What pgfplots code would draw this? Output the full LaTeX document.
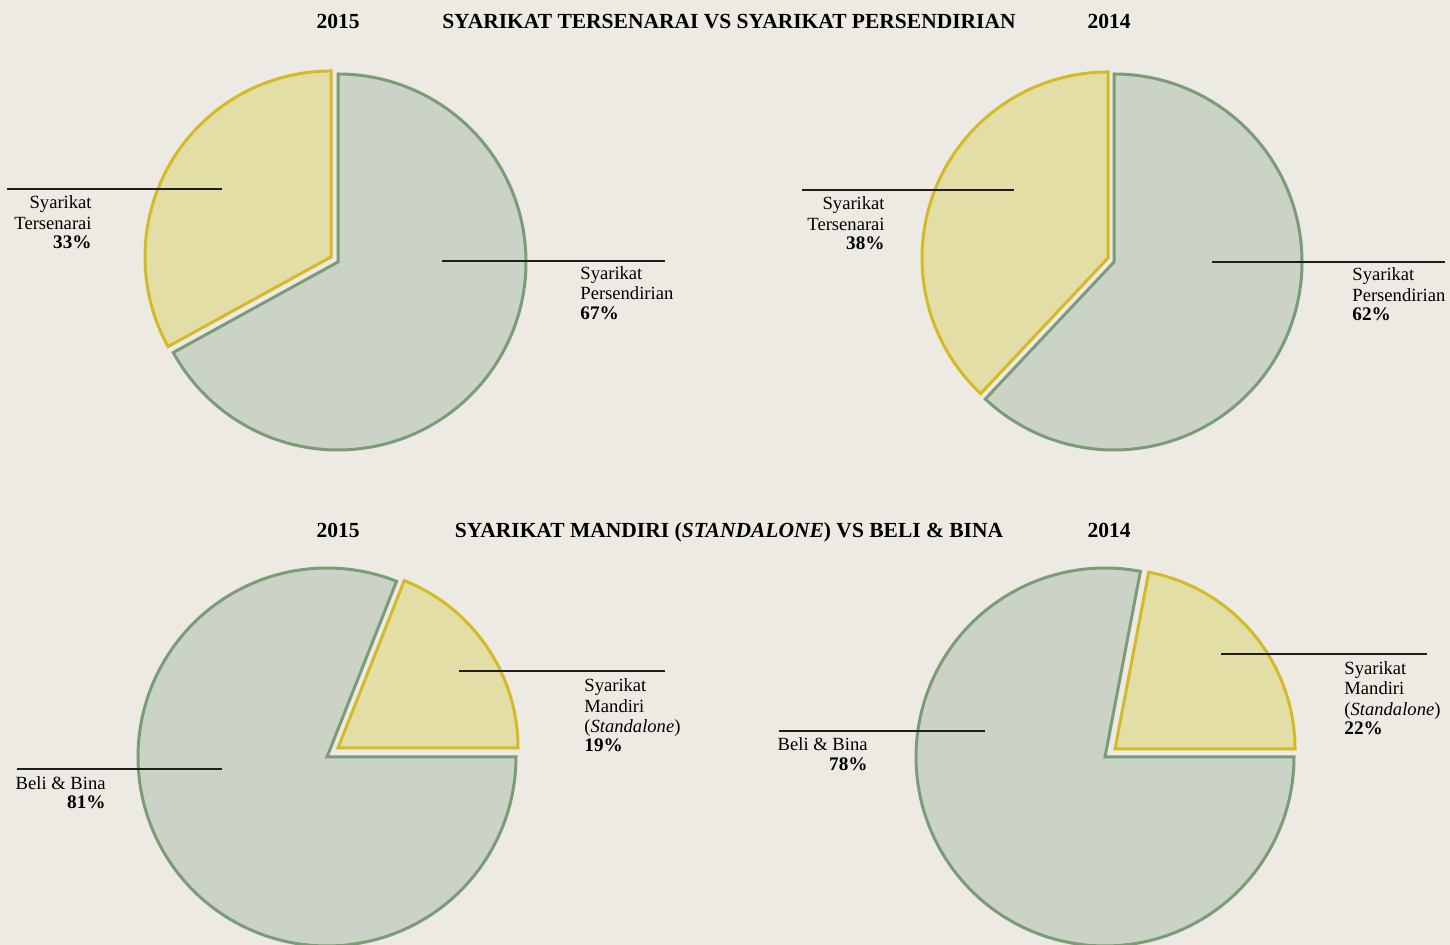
\documentclass[border=0pt]{standalone}
\usepackage{fontspec}
\setmainfont{Liberation Serif}
\usepackage{pgfplots}
\pgfplotsset{compat=1.18}
\definecolor{bg}{HTML}{EDEAE3}
\definecolor{gfill}{HTML}{CAD3C5}
\definecolor{gline}{HTML}{7A9C76}
\definecolor{yfill}{HTML}{E3DDA6}
\definecolor{yline}{HTML}{D5BA28}
\definecolor{lead}{HTML}{1E1E1E}
% slice: cx, cy, r, start angle, end angle, style
\newcommand{\slice}[6]{%
  \addplot[#6, domain=#4:#5, samples=150] ({#1+#3*cos(x)},{#2+#3*sin(x)}) -- (axis cs:#1,#2) -- cycle;
}
\tikzset{
  gsl/.style={fill=gfill, draw=gline, line width=1.5pt, line join=miter},
  ysl/.style={fill=yfill, draw=yline, line width=1.5pt, line join=miter},
  lab/.style={inner sep=0pt, font=\fontsize{9.3}{10}\selectfont, text=black},
  pct/.style={inner sep=0pt, font=\fontsize{9.6}{10}\selectfont\bfseries, text=black},
  ttl/.style={inner sep=0pt, anchor=base, font=\fontsize{10.75}{12}\selectfont\bfseries, text=black},
  ld/.style={draw=lead, line width=0.65pt}
}
\begin{document}
\begin{tikzpicture}
\begin{axis}[scale only axis, width=725pt, height=472.5pt,
  xmin=0, xmax=1450, ymin=0, ymax=945, hide axis, clip=true]
\fill[bg] (axis cs:0,0) rectangle (axis cs:1450,945);
% ---- top left: 2015, Tersenarai 33 / Persendirian 67
\slice{338}{683}{188}{-151.2}{90}{gsl}
\slice{331}{688}{186}{90}{208.8}{ysl}
% ---- top right: 2014, Tersenarai 38 / Persendirian 62
\slice{1114}{683}{188}{-133.2}{90}{gsl}
\slice{1108}{687}{186}{90}{226.8}{ysl}
% ---- bottom left: 2015, Mandiri 19 / Beli & Bina 81
\slice{327}{188}{189}{68.4}{360}{gsl}
\slice{338}{197}{180}{0}{68.4}{ysl}
% ---- bottom right: 2014, Mandiri 22 / Beli & Bina 78
\slice{1105}{188}{189}{79.2}{360}{gsl}
\slice{1115}{196}{180}{0}{79.2}{ysl}
% leader lines
\addplot[ld] coordinates {(7,756) (222,756)};
\addplot[ld] coordinates {(442,684) (665,684)};
\addplot[ld] coordinates {(802,755) (1014,755)};
\addplot[ld] coordinates {(1212,683) (1445,683)};
\addplot[ld] coordinates {(459,274) (665,274)};
\addplot[ld] coordinates {(17,176) (222,176)};
\addplot[ld] coordinates {(1221,291) (1427,291)};
\addplot[ld] coordinates {(779,214) (985,214)};
% titles
\node[ttl] at (axis cs:338,916) {2015};
\node[ttl] at (axis cs:729,916) {SYARIKAT TERSENARAI VS SYARIKAT PERSENDIRIAN};
\node[ttl] at (axis cs:1109,916) {2014};
\node[ttl] at (axis cs:338,407) {2015};
\node[ttl] at (axis cs:729,407) {SYARIKAT MANDIRI (\textit{STANDALONE}) VS BELI \& BINA};
\node[ttl] at (axis cs:1109,407) {2014};
% labels pie 1
\node[lab, anchor=base east] at (axis cs:92,736) {Syarikat};
\node[lab, anchor=base east] at (axis cs:92,715) {Tersenarai};
\node[pct, anchor=base east] at (axis cs:92,696) {33\%};
\node[lab, anchor=base west] at (axis cs:580,665) {Syarikat};
\node[lab, anchor=base west] at (axis cs:580,645) {Persendirian};
\node[pct, anchor=base west] at (axis cs:580,625) {67\%};
% labels pie 2
\node[lab, anchor=base east] at (axis cs:885,735) {Syarikat};
\node[lab, anchor=base east] at (axis cs:885,714) {Tersenarai};
\node[pct, anchor=base east] at (axis cs:885,695) {38\%};
\node[lab, anchor=base west] at (axis cs:1352,664) {Syarikat};
\node[lab, anchor=base west] at (axis cs:1352,643) {Persendirian};
\node[pct, anchor=base west] at (axis cs:1352,624) {62\%};
% labels pie 3
\node[lab, anchor=base west] at (axis cs:584,253) {Syarikat};
\node[lab, anchor=base west] at (axis cs:584,232) {Mandiri};
\node[lab, anchor=base west] at (axis cs:584,212) {(\textit{Standalone})};
\node[pct, anchor=base west] at (axis cs:584,193) {19\%};
\node[lab, anchor=base east] at (axis cs:106,155) {Beli \& Bina};
\node[pct, anchor=base east] at (axis cs:106,136) {81\%};
% labels pie 4
\node[lab, anchor=base west] at (axis cs:1344,270) {Syarikat};
\node[lab, anchor=base west] at (axis cs:1344,250) {Mandiri};
\node[lab, anchor=base west] at (axis cs:1344,229) {(\textit{Standalone})};
\node[pct, anchor=base west] at (axis cs:1344,210) {22\%};
\node[lab, anchor=base east] at (axis cs:868,194) {Beli \& Bina};
\node[pct, anchor=base east] at (axis cs:868,174) {78\%};
\end{axis}
\pgfresetboundingbox
\path (0,0) rectangle (725pt,472.5pt);
\end{tikzpicture}
\end{document}
